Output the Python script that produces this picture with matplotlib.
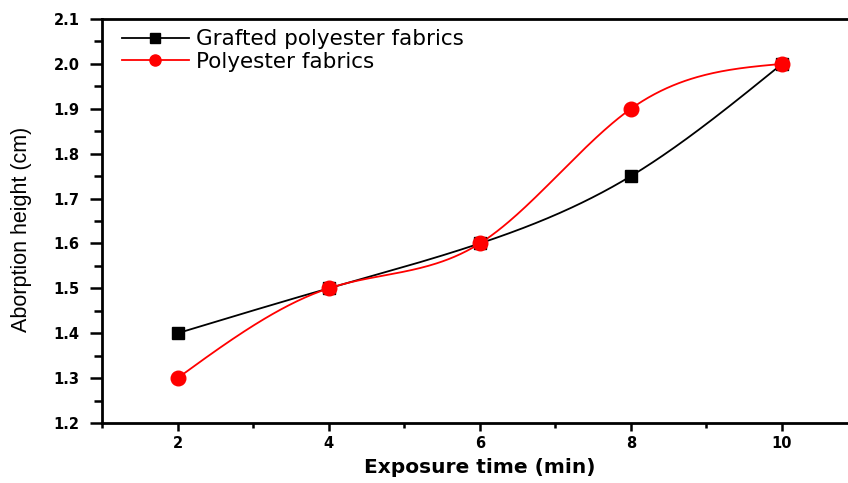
import matplotlib
matplotlib.use("Agg")
import matplotlib.pyplot as plt
import numpy as np
from matplotlib.ticker import MultipleLocator

# exposure time (min)
time = [2, 4, 6, 8, 10]
grafted = [1.40, 1.50, 1.60, 1.75, 2.00]
polyester = [1.30, 1.50, 1.60, 1.90, 2.00]

label_grafted = "Grafted polyester fabrics"
label_polyester = "Polyester fabrics"
xticks = [2, 4, 6, 8, 10]
yticks = [1.2, 1.3, 1.4, 1.5, 1.6, 1.7, 1.8, 1.9, 2.0, 2.1]


def spline_path(x, y, n=300):
    # natural cubic spline through the points, only for drawing the connecting line
    x = np.asarray(x, float)
    y = np.asarray(y, float)
    h = np.diff(x)
    k = len(x)
    A = np.zeros((k, k))
    b = np.zeros(k)
    A[0, 0] = 1
    A[-1, -1] = 1
    for i in range(1, k - 1):
        A[i, i - 1] = h[i - 1]
        A[i, i] = 2 * (h[i - 1] + h[i])
        A[i, i + 1] = h[i]
        b[i] = 6 * ((y[i + 1] - y[i]) / h[i] - (y[i] - y[i - 1]) / h[i - 1])
    m = np.linalg.solve(A, b)
    xs = np.linspace(x[0], x[-1], n)
    idx = np.clip(np.searchsorted(x, xs) - 1, 0, k - 2)
    x0, x1 = x[idx], x[idx + 1]
    hh = x1 - x0
    t0, t1 = x1 - xs, xs - x0
    ys = (m[idx] * t0 ** 3 + m[idx + 1] * t1 ** 3) / (6 * hh) \
        + (y[idx] / hh - m[idx] * hh / 6) * t0 \
        + (y[idx + 1] / hh - m[idx + 1] * hh / 6) * t1
    return xs, ys


plt.rcParams['font.family'] = ['DejaVu Sans']

fig = plt.figure(figsize=(8.48, 4.83), dpi=100)
ax = fig.add_axes([0.1203, 0.1242, 0.891, 0.8365])

xs, ys = spline_path(time, grafted)
ax.plot(xs, ys, color="black", lw=1.3, zorder=2)
xs, ys = spline_path(time, polyester)
ax.plot(xs, ys, color="red", lw=1.3, zorder=2)

ax.plot(time, grafted, ls="none", marker="s", ms=9, color="black", zorder=3)
ax.plot(time, polyester, ls="none", marker="o", ms=10.5, color="red", zorder=4)

# legend handles: line-marker-line
h1, = ax.plot([], [], color="black", lw=1.3, marker="s", ms=6.5)
h2, = ax.plot([], [], color="red", lw=1.3, marker="o", ms=8)
ax.legend([h1, h2], [label_grafted, label_polyester], loc="upper left",
          frameon=False, prop={"family": "DejaVu Sans", "size": 15.5},
          handlelength=3.1, handletextpad=0.35, labelspacing=0.13,
          borderpad=0, borderaxespad=0, numpoints=1,
          bbox_to_anchor=(0.0265, 0.975))

ax.set_xlim(1, 11)
ax.set_ylim(1.2, 2.1)
ax.set_xticks(xticks)
ax.set_xticklabels([str(v) for v in xticks])
ax.set_yticks(yticks)
ax.set_yticklabels(["%.1f" % v for v in yticks])
ax.xaxis.set_minor_locator(MultipleLocator(1))
ax.yaxis.set_minor_locator(MultipleLocator(0.05))

ax.tick_params(which="both", direction="out", width=1.8, top=False, right=False)
ax.tick_params(axis="y", which="major", length=9, pad=7, labelsize=10.5)
ax.tick_params(axis="y", which="minor", length=5.5)
ax.tick_params(axis="x", which="major", length=6, pad=3.5, labelsize=10.5)
ax.tick_params(axis="x", which="minor", length=3.5)
for lbl in ax.get_xticklabels() + ax.get_yticklabels():
    lbl.set_fontweight("bold")
for s in ax.spines.values():
    s.set_linewidth(2)

ax.set_xlabel("Exposure time (min)", fontsize=14.5, fontweight="bold", labelpad=5)
ax.set_ylabel("Aborption height (cm)", fontsize=15.5,
              family=["Liberation Sans", "DejaVu Sans"])
ax.yaxis.set_label_coords(-0.093, 0.48)

fig.savefig("out.png", dpi=100)
